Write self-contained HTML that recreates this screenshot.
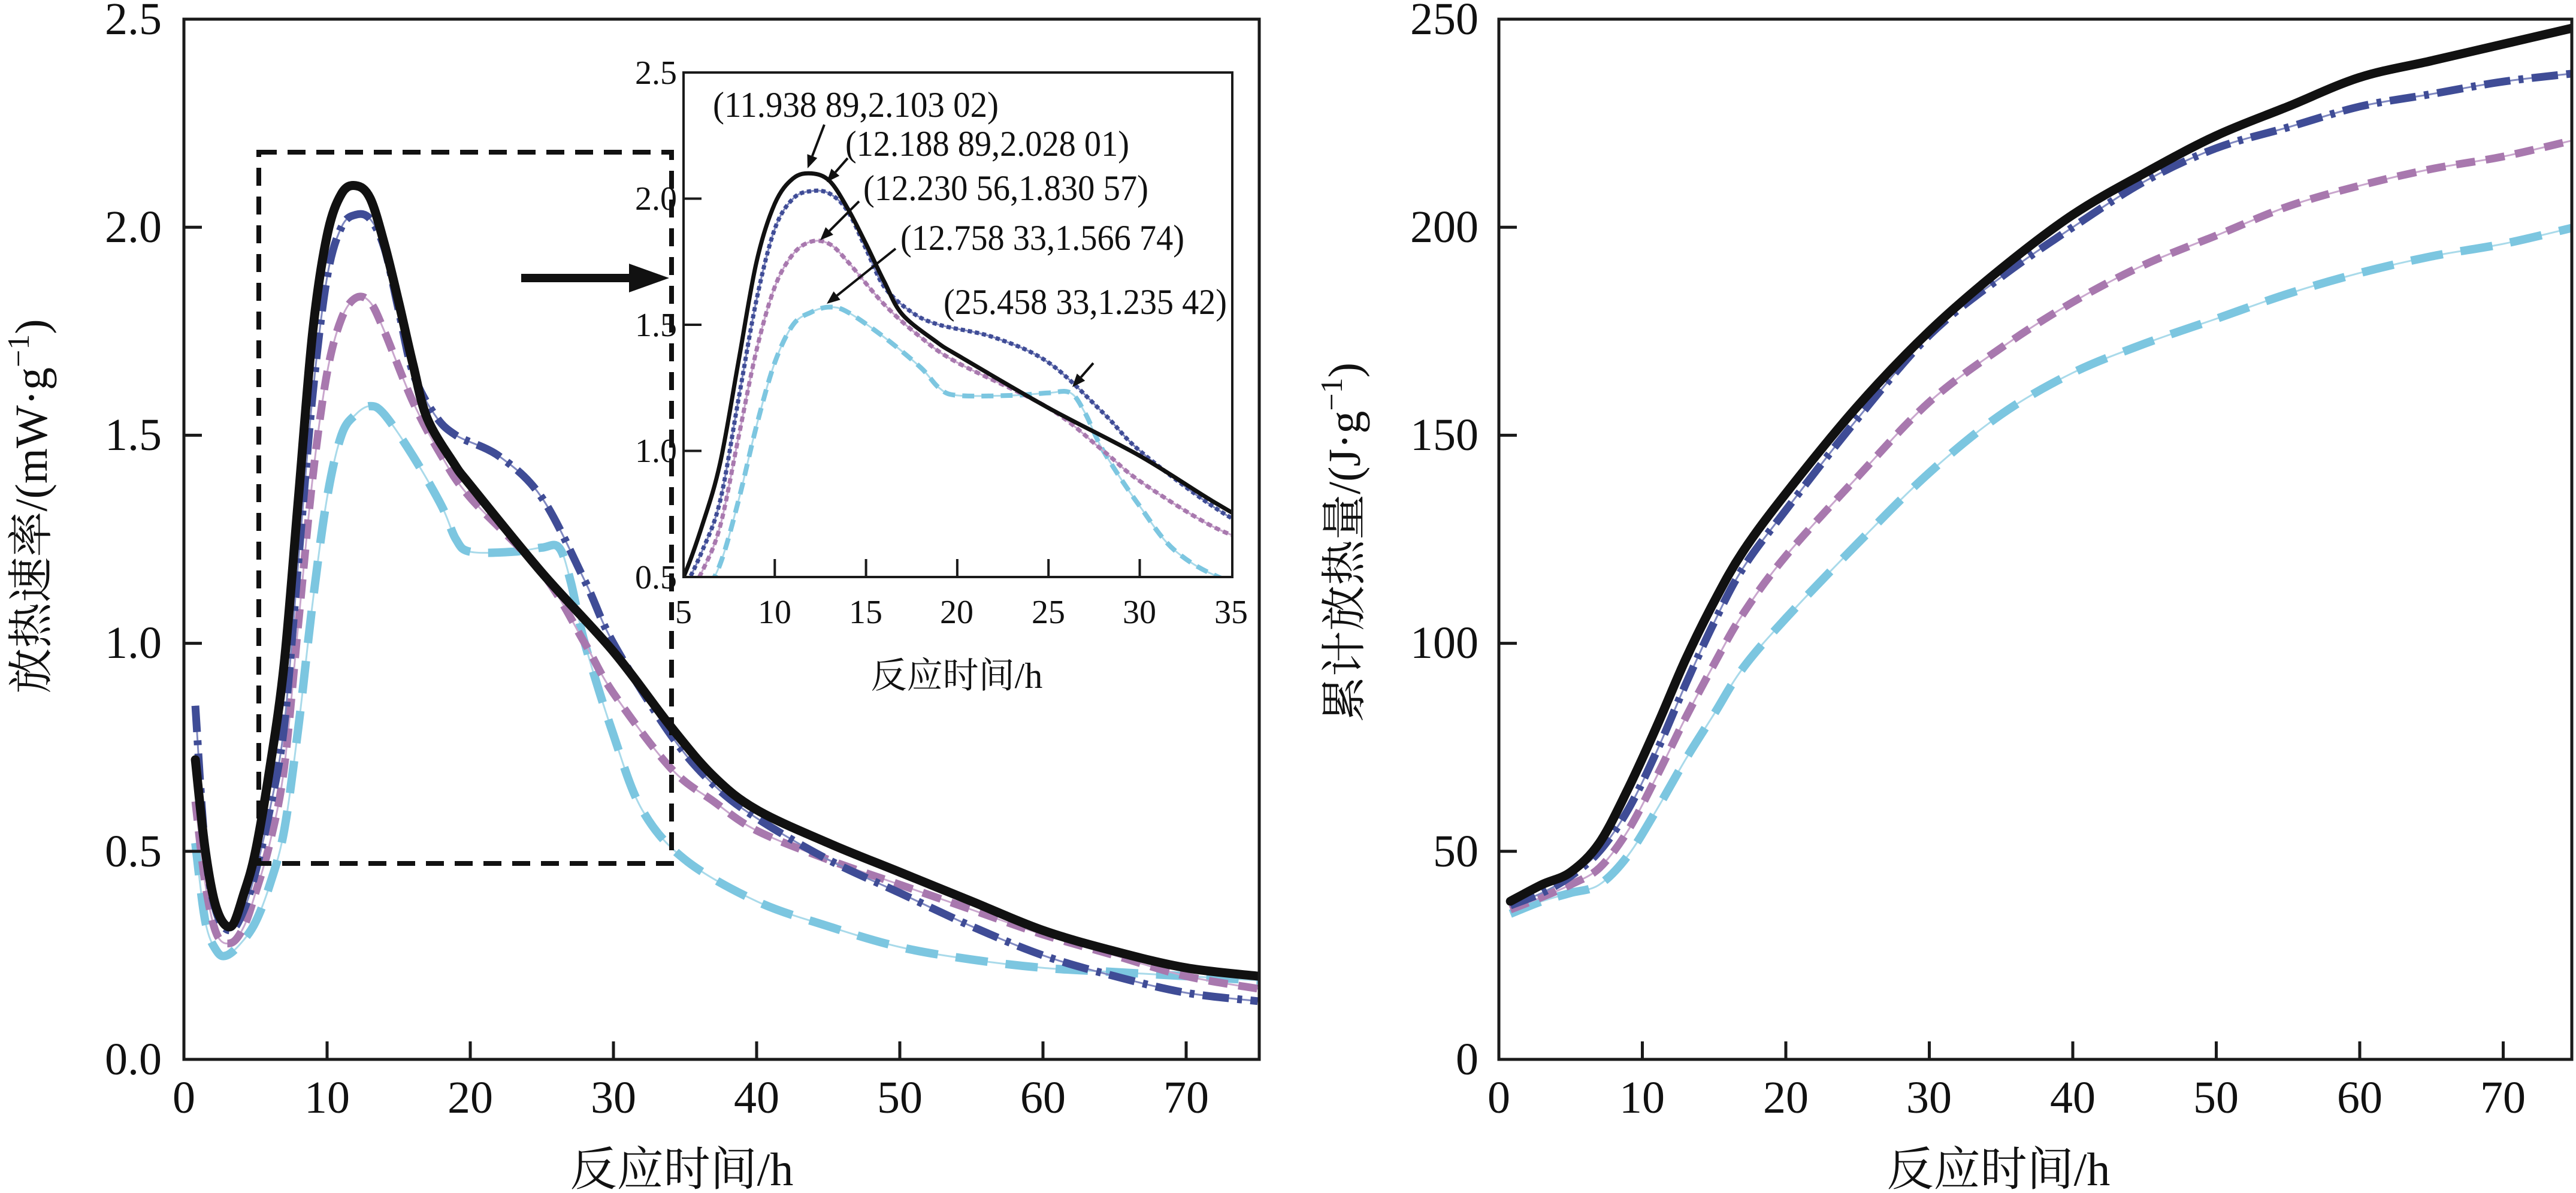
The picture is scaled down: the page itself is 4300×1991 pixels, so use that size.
<!DOCTYPE html>
<html><head><meta charset="utf-8">
<style>
html,body{margin:0;padding:0;background:#fff;}
svg{display:block;}
text{font-family:"Liberation Serif","Noto Serif CJK SC","Noto Sans CJK SC",serif;fill:#111;}
</style></head>
<body>
<svg id="s" width="4300" height="1991" viewBox="0 0 4300 1991" xmlns="http://www.w3.org/2000/svg">
<defs>
<clipPath id="cL"><rect x="307" y="32" width="1795" height="1736"/></clipPath>
<clipPath id="cR"><rect x="2502" y="32" width="1791" height="1736"/></clipPath>
<clipPath id="cI"><rect x="1141" y="121" width="916" height="842"/></clipPath>
</defs>
<g id="curvesL" clip-path="url(#cL)"></g>
<g id="curvesR" clip-path="url(#cR)"></g>

<rect x="307" y="32" width="1795" height="1736" fill="none" stroke="#1a1a1a" stroke-width="5"/>
<g stroke="#1a1a1a" stroke-width="5" id="ticksL"></g>
<g font-size="76" text-anchor="end">
<text x="270" y="1793">0.0</text>
<text x="270" y="1446">0.5</text>
<text x="270" y="1098">1.0</text>
<text x="270" y="751">1.5</text>
<text x="270" y="404">2.0</text>
<text x="270" y="57">2.5</text>
</g>
<g font-size="76" text-anchor="middle">
<text x="307" y="1857">0</text><text x="546" y="1857">10</text><text x="785" y="1857">20</text>
<text x="1024" y="1857">30</text><text x="1263" y="1857">40</text><text x="1502" y="1857">50</text>
<text x="1741" y="1857">60</text><text x="1980" y="1857">70</text>
</g>
<text x="1138" y="1978" font-size="78" text-anchor="middle">反应时间/h</text>
<text transform="translate(78,845) rotate(-90)" font-size="76" text-anchor="middle">放热速率/(mW·g<tspan dy="-30" font-size="52">−1</tspan><tspan dy="30">)</tspan></text>

<rect x="432" y="254" width="689" height="1187" fill="none" stroke="#111" stroke-width="8" stroke-dasharray="30,18"/>
<line x1="870" y1="464" x2="1060" y2="464" stroke="#111" stroke-width="14"/>
<polygon points="1050,440 1117,464 1050,488" fill="#111"/>

<rect x="1141" y="121" width="916" height="842" fill="#fff"/>
<g id="curvesI" clip-path="url(#cI)"></g>
<rect x="1141" y="121" width="916" height="842" fill="none" stroke="#1a1a1a" stroke-width="4"/>
<g stroke="#1a1a1a" stroke-width="4" id="ticksI"></g>
<g font-size="56" text-anchor="end">
<text x="1130" y="982">0.5</text>
<text x="1130" y="771">1.0</text>
<text x="1130" y="561">1.5</text>
<text x="1130" y="350">2.0</text>
<text x="1130" y="140">2.5</text>
</g>
<g font-size="56" text-anchor="middle">
<text x="1141" y="1040">5</text><text x="1293" y="1040">10</text><text x="1445" y="1040">15</text>
<text x="1597" y="1040">20</text><text x="1750" y="1040">25</text><text x="1902" y="1040">30</text><text x="2055" y="1040">35</text>
</g>
<text x="1597" y="1148" font-size="60" text-anchor="middle">反应时间/h</text>
<g font-size="60">
<text x="1190" y="195" textLength="477" lengthAdjust="spacingAndGlyphs">(11.938 89,2.103 02)</text>
<text x="1411" y="260" textLength="474" lengthAdjust="spacingAndGlyphs">(12.188 89,2.028 01)</text>
<text x="1441" y="334" textLength="476" lengthAdjust="spacingAndGlyphs">(12.230 56,1.830 57)</text>
<text x="1503" y="417" textLength="474" lengthAdjust="spacingAndGlyphs">(12.758 33,1.566 74)</text>
<text x="1575" y="524" textLength="473" lengthAdjust="spacingAndGlyphs">(25.458 33,1.235 42)</text>
</g>
<g id="annArrows" stroke="#111" stroke-width="4" fill="#111"></g>

<rect x="2502" y="32" width="1791" height="1736" fill="none" stroke="#1a1a1a" stroke-width="5"/>
<g stroke="#1a1a1a" stroke-width="5" id="ticksR"></g>
<g font-size="76" text-anchor="end">
<text x="2468" y="1793">0</text>
<text x="2468" y="1446">50</text>
<text x="2468" y="1098">100</text>
<text x="2468" y="751">150</text>
<text x="2468" y="404">200</text>
<text x="2468" y="57">250</text>
</g>
<g font-size="76" text-anchor="middle">
<text x="2502" y="1857">0</text><text x="2741" y="1857">10</text><text x="2981" y="1857">20</text>
<text x="3220" y="1857">30</text><text x="3460" y="1857">40</text><text x="3699" y="1857">50</text>
<text x="3939" y="1857">60</text><text x="4178" y="1857">70</text>
</g>
<text x="3336" y="1978" font-size="78" text-anchor="middle">反应时间/h</text>
<text transform="translate(2270,905) rotate(-90)" font-size="76" text-anchor="middle">累计放热量/(J·g<tspan dy="-30" font-size="52">−1</tspan><tspan dy="30">)</tspan></text>
</svg>
<script>
const NS="http://www.w3.org/2000/svg";
function el(t,a,p){const e=document.createElementNS(NS,t);for(const k in a)e.setAttribute(k,a[k]);p.appendChild(e);return e;}
function path(pts){
 let d="M"+pts[0][0].toFixed(1)+","+pts[0][1].toFixed(1);
 for(let i=0;i<pts.length-1;i++){
  const p0=pts[Math.max(i-1,0)],p1=pts[i],p2=pts[i+1],p3=pts[Math.min(i+2,pts.length-1)];
  const c1=[p1[0]+(p2[0]-p0[0])/6,p1[1]+(p2[1]-p0[1])/6];
  const c2=[p2[0]-(p3[0]-p1[0])/6,p2[1]-(p3[1]-p1[1])/6];
  d+="C"+c1[0].toFixed(1)+","+c1[1].toFixed(1)+" "+c2[0].toFixed(1)+","+c2[1].toFixed(1)+" "+p2[0].toFixed(1)+","+p2[1].toFixed(1);
 }
 return d;
}
const L={
k:[[0.8,0.72],[1.5,0.5],[2.3,0.36],[3.3,0.32],[4.2,0.4],[5,0.5],[6,0.7],[7,0.95],[8,1.35],[9,1.75],[10,1.98],[11,2.08],[12,2.1],[13,2.07],[14,1.96],[15,1.82],[16,1.67],[17,1.54],[18.9,1.43],[20,1.38],[25,1.17],[30,0.98],[34,0.8],[37,0.68],[40,0.6],[45,0.52],[50,0.45],[55,0.38],[60,0.31],[65,0.26],[70,0.22],[75,0.2]],
b:[[0.8,0.85],[1.5,0.5],[2.3,0.35],[3.3,0.31],[4.2,0.36],[5,0.45],[6,0.6],[7,0.8],[8,1.2],[9,1.6],[10,1.88],[11,2.0],[12,2.03],[13,2.02],[14,1.95],[15,1.8],[16,1.65],[17.5,1.55],[19,1.5],[22,1.45],[25,1.35],[28,1.15],[30,1.0],[34,0.78],[37,0.66],[40,0.58],[45,0.48],[50,0.4],[55,0.32],[60,0.25],[65,0.2],[70,0.16],[75,0.14]],
p:[[0.8,0.62],[1.5,0.42],[2.3,0.3],[3.3,0.28],[4.2,0.32],[5,0.4],[6,0.52],[7,0.7],[8,1.05],[9,1.4],[10,1.65],[11,1.78],[12,1.83],[13,1.82],[14,1.75],[16,1.58],[18,1.45],[20,1.35],[25,1.17],[28,1.0],[30,0.88],[34,0.7],[37,0.62],[40,0.55],[45,0.48],[50,0.42],[55,0.36],[60,0.3],[65,0.25],[70,0.2],[75,0.17]],
c:[[0.8,0.52],[1.5,0.33],[2.3,0.26],[3,0.25],[4,0.28],[5,0.33],[6,0.42],[7,0.55],[8,0.8],[9,1.1],[10,1.35],[11,1.5],[12,1.55],[13,1.57],[14,1.55],[16,1.45],[18,1.33],[19,1.25],[20,1.22],[23,1.22],[25,1.23],[26.2,1.23],[27,1.15],[28,1.0],[30,0.78],[32,0.6],[35,0.48],[40,0.38],[45,0.32],[50,0.27],[55,0.24],[60,0.22],[65,0.21],[70,0.2],[75,0.19]]};
const R={
k:[[0.8,38],[3,42],[5,45],[7,52],[9,65],[11,80],[13,96],[15,110],[17,122],[20,136],[25,157],[30,175],[35,190],[40,203],[45,213],[50,222],[55,229],[60,236],[65,240],[70,244],[75,248]],
b:[[0.8,37],[3,40],[5,44],[7,50],[9,60],[11,74],[13,90],[15,105],[17,118],[20,132],[25,154],[30,174],[35,188],[40,200],[45,211],[50,219],[55,224],[60,229],[65,232],[70,235],[75,237]],
p:[[0.8,36],[3,39],[5,42],[7,46],[9,55],[11,68],[13,82],[15,95],[17,107],[20,121],[25,140],[30,158],[35,171],[40,182],[45,191],[50,198],[55,205],[60,210],[65,214],[70,217],[75,221]],
c:[[0.8,35],[3,38],[5,40],[7,42],[9,49],[11,60],[13,72],[15,83],[17,94],[20,106],[25,124],[30,141],[35,155],[40,165],[45,172],[50,178],[55,184],[60,189],[65,193],[70,196],[75,200]]};
const sty={
k:{c:"#111",w:15,d:null,thin:null},
b:{c:"#3f4c96",w:13,d:"44,14,8,14",thin:"#7f88c0"},
p:{c:"#a878ae",w:13,d:"32,18",thin:"#c9a6cd"},
c:{c:"#7cc6e0",w:14,d:"54,30",thin:"#a9daea"}};
const styI={
k:{c:"#111",w:7,d:null,thin:null},
b:{c:"#3f4c96",w:7,d:"7,5",thin:"#7f88c0"},
p:{c:"#a878ae",w:7,d:"9,6",thin:"#c9a6cd"},
c:{c:"#7cc6e0",w:8,d:"20,12",thin:"#a9daea"}};
function draw(g,data,fx,fy,st,order){
 order.forEach(k=>{
  const pts=data[k].map(p=>[fx(p[0]),fy(p[1])]);
  const d=path(pts),s=st[k];
  if(s.thin) el("path",{d:d,fill:"none",stroke:s.thin,"stroke-width":3},g);
  const a={d:d,fill:"none",stroke:s.c,"stroke-width":s.w,"stroke-linecap":"round","stroke-linejoin":"round"};
  if(s.d){a["stroke-dasharray"]=s.d;a["stroke-linecap"]="butt";}
  el("path",a,g);
 });
}
const ord=["c","p","b","k"];
draw(document.getElementById("curvesL"),L,h=>307+23.9*h,v=>1768-694.4*v,sty,ord);
draw(document.getElementById("curvesR"),R,h=>2502+23.95*h,v=>1768-6.944*v,sty,ord);
draw(document.getElementById("curvesI"),L,h=>1141+30.47*(h-5),v=>963-421*(v-0.5),styI,ord);
const tL=document.getElementById("ticksL"),tR=document.getElementById("ticksR"),tI=document.getElementById("ticksI");
for(let i=1;i<=7;i++){el("line",{x1:307+23.9*10*i,y1:1768,x2:307+23.9*10*i,y2:1738},tL);el("line",{x1:2502+23.95*10*i,y1:1768,x2:2502+23.95*10*i,y2:1738},tR);}
for(let i=1;i<=4;i++){el("line",{x1:307,y1:1768-347.2*i,x2:337,y2:1768-347.2*i},tL);el("line",{x1:2502,y1:1768-347.2*i,x2:2532,y2:1768-347.2*i},tR);}
for(let i=1;i<=5;i++)el("line",{x1:1141+152.3*i,y1:963,x2:1141+152.3*i,y2:933},tI);
for(let i=1;i<=3;i++)el("line",{x1:1141,y1:963-210.5*i,x2:1171,y2:963-210.5*i},tI);
const ag=document.getElementById("annArrows");
[[1376,208,1348,281],[1415,264,1380,304],[1434,336,1369,401],[1495,415,1380,507],[1825,606,1790,646]].forEach(a=>{
 const [x1,y1,x2,y2]=a;const dx=x2-x1,dy=y2-y1,L2=Math.hypot(dx,dy),ux=dx/L2,uy=dy/L2;
 const hl=22,hw=9;const bx=x2-ux*hl,by=y2-uy*hl;
 el("line",{x1:x1,y1:y1,x2:bx,y2:by},ag);
 el("polygon",{points:`${x2},${y2} ${bx-uy*hw},${by+ux*hw} ${bx+uy*hw},${by-ux*hw}`,stroke:"none"},ag);
});
</script>
</body></html>
